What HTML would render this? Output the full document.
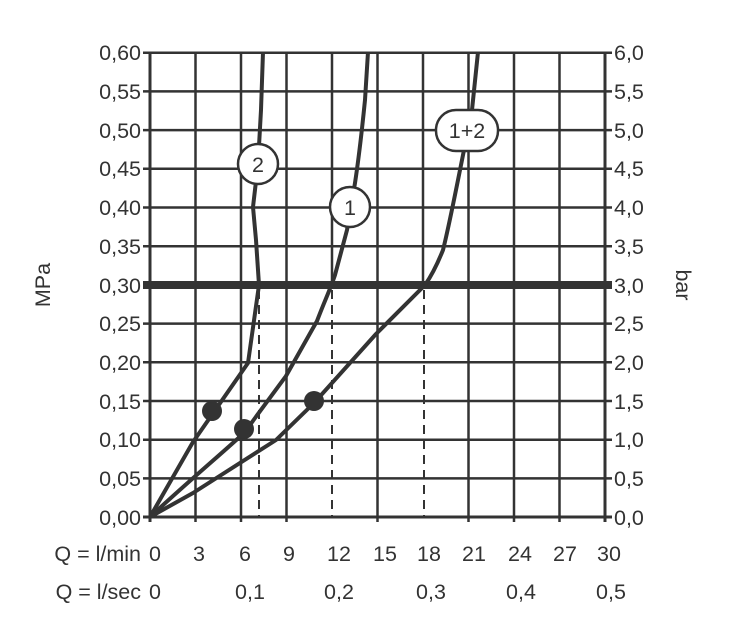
<!DOCTYPE html>
<html><head><meta charset="utf-8"><style>body{margin:0;background:#fff}svg{display:block}text{font-family:"Liberation Sans",sans-serif;fill:#333;font-size:21.5px}</style></head><body>
<svg width="737" height="630" viewBox="0 0 737 630">
<g stroke="#333" stroke-width="2.5">
<line x1="143" y1="52.7" x2="612" y2="52.7"/><line x1="143" y1="91.4" x2="612" y2="91.4"/><line x1="143" y1="130.1" x2="612" y2="130.1"/><line x1="143" y1="168.8" x2="612" y2="168.8"/><line x1="143" y1="207.5" x2="612" y2="207.5"/><line x1="143" y1="246.2" x2="612" y2="246.2"/><line x1="143" y1="323.6" x2="612" y2="323.6"/><line x1="143" y1="362.3" x2="612" y2="362.3"/><line x1="143" y1="401" x2="612" y2="401"/><line x1="143" y1="439.7" x2="612" y2="439.7"/><line x1="143" y1="478.4" x2="612" y2="478.4"/><line x1="143" y1="517" x2="612" y2="517" stroke-width="3"/>
<line x1="150" y1="52" x2="150" y2="522" stroke-width="3"/><line x1="195.5" y1="52" x2="195.5" y2="522"/><line x1="241" y1="52" x2="241" y2="522"/><line x1="286.5" y1="52" x2="286.5" y2="522"/><line x1="332" y1="52" x2="332" y2="285"/><line x1="377.5" y1="52" x2="377.5" y2="522"/><line x1="423" y1="52" x2="423" y2="285"/><line x1="468.5" y1="52" x2="468.5" y2="522"/><line x1="514" y1="52" x2="514" y2="522"/><line x1="559.5" y1="52" x2="559.5" y2="522"/><line x1="605" y1="52" x2="605" y2="522" stroke-width="3"/>
</g>
<g stroke="#333" stroke-width="2" stroke-dasharray="9,6">
<line x1="259" y1="290" x2="259" y2="517"/><line x1="332" y1="290" x2="332" y2="517"/><line x1="424" y1="290" x2="424" y2="517"/>
</g>
<line x1="143" y1="285" x2="612" y2="285" stroke="#333" stroke-width="8"/>
<g fill="none" stroke="#333" stroke-width="4" stroke-linejoin="round">
<path d="M150,517 L193,442 L248,363 L259,285 L256,240 L253,207 L258,164 L261,110 L263,52"/>
<path d="M150,517 C190,480 220,455 244,433 L286,376 L317,321 C325,300 330,290 335,275 L347,230 L355,183 C360,150 363,120 365,100 L368,52"/>
<path d="M150,517 L193,493 L276,440 L314,403 L376,334 C400,310 415,295 425,285 C432,275 437,265 443,250 C448,230 452,210 458,180 L472,110 L478,52"/>
</g>
<g fill="#333"><circle cx="212" cy="411" r="10"/><circle cx="244" cy="429" r="10"/><circle cx="314" cy="401" r="10"/></g>
<g fill="#fff" stroke="#333" stroke-width="2.5">
<circle cx="258" cy="164" r="20"/><circle cx="350" cy="207" r="20"/><rect x="436" y="110" width="62" height="41" rx="20"/>
</g>
<g font-size="22"><text x="258" y="172" text-anchor="middle">2</text><text x="350" y="215" text-anchor="middle">1</text><text x="467" y="138" text-anchor="middle">1+2</text></g>
<g text-anchor="end"><text x="141" y="60">0,60</text><text x="141" y="99">0,55</text><text x="141" y="138">0,50</text><text x="141" y="176">0,45</text><text x="141" y="215">0,40</text><text x="141" y="254">0,35</text><text x="141" y="293">0,30</text><text x="141" y="331">0,25</text><text x="141" y="370">0,20</text><text x="141" y="409">0,15</text><text x="141" y="447">0,10</text><text x="141" y="486">0,05</text><text x="141" y="525">0,00</text></g>
<g><text x="614" y="60">6,0</text><text x="614" y="99">5,5</text><text x="614" y="138">5,0</text><text x="614" y="176">4,5</text><text x="614" y="215">4,0</text><text x="614" y="254">3,5</text><text x="614" y="293">3,0</text><text x="614" y="331">2,5</text><text x="614" y="370">2,0</text><text x="614" y="409">1,5</text><text x="614" y="447">1,0</text><text x="614" y="486">0,5</text><text x="614" y="525">0,0</text></g>
<text transform="translate(50,285) rotate(-90)" text-anchor="middle">MPa</text>
<text transform="translate(676,285) rotate(90)" text-anchor="middle">bar</text>
<text x="141" y="561" text-anchor="end">Q = l/min</text>
<g text-anchor="middle"><text x="155" y="561">0</text><text x="199" y="561">3</text><text x="245" y="561">6</text><text x="289" y="561">9</text><text x="339" y="561">12</text><text x="385" y="561">15</text><text x="429" y="561">18</text><text x="474" y="561">21</text><text x="520" y="561">24</text><text x="565" y="561">27</text><text x="609" y="561">30</text></g>
<text x="141" y="599" text-anchor="end">Q = l/sec</text>
<g text-anchor="middle"><text x="155" y="599">0</text><text x="250" y="599">0,1</text><text x="339" y="599">0,2</text><text x="431" y="599">0,3</text><text x="521" y="599">0,4</text><text x="611" y="599">0,5</text></g>
</svg>
</body></html>
